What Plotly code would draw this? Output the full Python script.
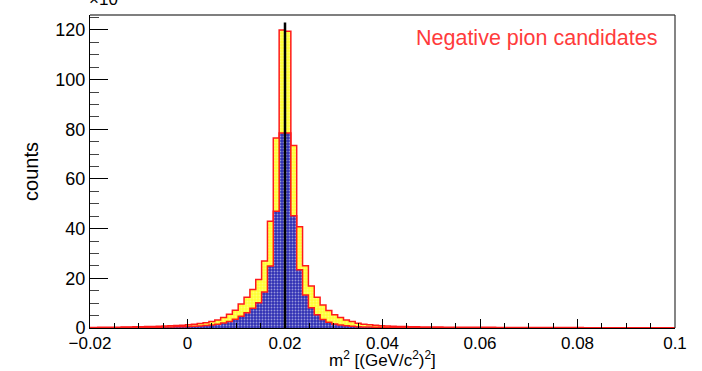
import numpy as np
import plotly.graph_objects as go

# ---- data ----
bin_width = 0.0012
first_edge = -0.0208   # left edge of first bin (edges fall on 0.02 + k*0.0012)

# yellow (all candidates), in units of 10^3, left of 0.02: outward from the peak (L1..L34)
yellow_left = [120, 76.5, 43, 27, 19.5, 15.5, 12.4, 9.7, 7.1, 5.5, 4.2, 3.2, 2.6, 2.1,
               1.8, 1.5, 1.3, 1.1, 1.0, 0.9, 0.8, 0.7, 0.65, 0.6, 0.55, 0.5, 0.45, 0.4,
               0.35, 0.32, 0.3, 0.28, 0.25, 0.22]
# right of 0.02: outward from the peak (R1..R67)
yellow_right = [119.5, 73.5, 40.8, 25.1, 16.9, 12.4, 9.3, 7.0, 5.3, 4.2, 3.2, 2.6, 1.9, 1.5,
                1.3, 1.1, 0.95, 0.85, 0.75, 0.65, 0.58, 0.52, 0.47, 0.43, 0.4,
                0.38, 0.36, 0.34, 0.33, 0.32, 0.31, 0.3, 0.29, 0.28, 0.27, 0.26, 0.25, 0.24,
                0.23, 0.22, 0.22, 0.21, 0.2, 0.2, 0.19, 0.18, 0.18, 0.17, 0.17, 0.16, 0.16,
                0.15, 0.15, 0.14, 0.14, 0.13, 0.13, 0.13, 0.12, 0.12, 0.12, 0.11, 0.11, 0.11,
                0.1, 0.1, 0.1]

# blue (selected), same binning
blue_left = [78.5, 47, 25, 14.5, 10.2, 8, 6.1, 4.7, 3.5, 2.6, 2.0, 1.5, 1.2, 1.0,
             0.85, 0.72, 0.62, 0.55, 0.48, 0.42, 0.37, 0.33, 0.3, 0.27, 0.24, 0.21, 0.19,
             0.17, 0.15, 0.13, 0.12, 0.11, 0.1, 0.09]
blue_right = [78.5, 45.2, 23.4, 13.3, 8.2, 5.3, 3.4, 2.3, 1.6, 1.2, 0.9, 0.7, 0.55, 0.45,
              0.38, 0.32, 0.27, 0.23, 0.2, 0.17, 0.15, 0.13, 0.11, 0.1, 0.09,
              0.08, 0.08, 0.07, 0.07, 0.07, 0.06, 0.06, 0.06, 0.05, 0.05, 0.05, 0.05,
              0.04, 0.04, 0.04, 0.04, 0.04, 0.03, 0.03, 0.03, 0.03, 0.03, 0.03, 0.03,
              0.02, 0.02, 0.02, 0.02, 0.02, 0.02, 0.02, 0.02, 0.02, 0.02, 0.02, 0.02,
              0.02, 0.02, 0.02, 0.02, 0.02, 0.02]

pion_m2 = 0.02
pion_line_top = 123
x_range = [-0.02, 0.1]
y_range = [0, 126]

yellow = list(reversed(yellow_left)) + yellow_right
blue = list(reversed(blue_left)) + blue_right
edges = first_edge + bin_width * np.arange(len(yellow) + 1)


def step(vals):
    xs = [edges[0]] + list(edges) + [edges[-1]]
    ys = [0] + list(vals) + [vals[-1], 0]
    return xs, ys


fig = go.Figure()
xs, ys = step(yellow)
fig.add_trace(go.Scatter(
    x=xs, y=ys, mode="lines", line=dict(color="#ff1a1a", width=1.5, shape="hv"),
    fill="tozeroy", fillcolor="#ffff4d",
    fillpattern=dict(shape=".", bgcolor="#ffff33", fgcolor="#ffffb0", size=3, solidity=0.35),
    showlegend=False, hoverinfo="skip"))
xs, ys = step(blue)
fig.add_trace(go.Scatter(
    x=xs, y=ys, mode="lines", line=dict(color="#ff1a1a", width=1.5, shape="hv"),
    fill="tozeroy", fillcolor="#4040b8",
    fillpattern=dict(shape=".", bgcolor="#3030b4", fgcolor="#ffffff", size=3, solidity=0.3),
    showlegend=False, hoverinfo="skip"))

# vertical pion mass line
fig.add_shape(type="line", x0=pion_m2, x1=pion_m2, y0=0, y1=pion_line_top,
              xref="x", yref="y", line=dict(color="black", width=2.5))
# frame (top and right)
fig.add_shape(type="line", x0=0, x1=1, y0=1, y1=1, xref="paper", yref="paper",
              line=dict(color="#555555", width=1.5))
fig.add_shape(type="line", x0=1, x1=1, y0=0, y1=1, xref="paper", yref="paper",
              line=dict(color="#333333", width=1.2))

font = "Liberation Sans, Arial, Helvetica, sans-serif"
fig.update_layout(
    width=702, height=371,
    margin=dict(l=90, r=27, t=15, b=43, autoexpand=False),
    paper_bgcolor="white", plot_bgcolor="white",
    font=dict(family=font, color="black", size=18),
    xaxis=dict(range=x_range, showgrid=False, zeroline=False, automargin=False,
               showline=True, linecolor="black", linewidth=1,
               ticks="inside", ticklen=9, tickwidth=1, tickcolor="black",
               dtick=0.02, tick0=0, tickfont=dict(size=17),
               minor=dict(ticks="inside", ticklen=5, dtick=0.005, tickcolor="black")),
    yaxis=dict(range=y_range, showgrid=False, zeroline=False, automargin=False,
               showline=True, linecolor="black", linewidth=1,
               ticks="inside", ticklen=18, tickwidth=1, tickcolor="black",
               dtick=20, tick0=0, tickfont=dict(size=18),
               minor=dict(ticks="inside", ticklen=9, dtick=5, tickcolor="#444444"),
               title=dict(text="counts", font=dict(size=20), standoff=11)),
    annotations=[
        dict(text="Negative pion candidates", xref="paper", yref="paper",
             x=0.972, y=0.925, xanchor="right", yanchor="middle", showarrow=False,
             font=dict(size=21.5, color="#ff3b3b", family=font)),
        dict(text="×10<sup>3</sup>", xref="paper", yref="paper",
             x=-0.005, y=1.012, xanchor="left", yanchor="bottom", showarrow=False,
             font=dict(size=17, color="black", family=font)),
        dict(text="m<sup>2</sup> [(GeV/c<sup>2</sup>)<sup>2</sup>]", xref="paper", yref="paper",
             x=0.5, y=-0.1, xanchor="center", yanchor="middle", showarrow=False,
             font=dict(size=17, color="black", family=font)),
    ],
)

fig.write_html("out.html")
